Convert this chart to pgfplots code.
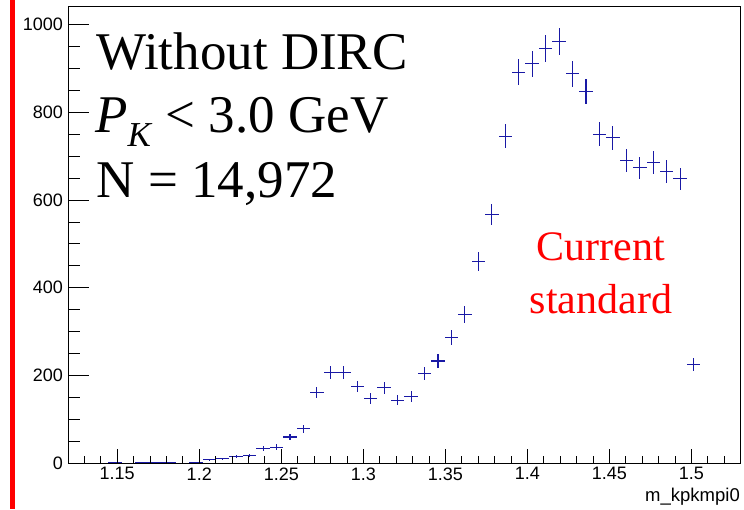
\documentclass[border=0pt]{standalone}
\usepackage{pgfplots}
\pgfplotsset{compat=1.18}
\usepackage{pgfplotstable}
\usepackage{fontspec}
\setmainfont{Liberation Serif}
\newfontfamily\arialf{Liberation Sans}
\definecolor{errblue}{RGB}{25,25,165}
\definecolor{rootred}{RGB}{255,0,0}

\pgfplotstableread{
x y ex ey
1.1487 1 0.0041 1
1.1651 1 0.0041 1
1.1733 2 0.0041 1.41
1.1815 1 0.0041 1
1.1979 2 0.0041 1.41
1.2061 8 0.0041 2.83
1.2143 10 0.0041 3.16
1.2225 15 0.0041 3.87
1.2307 18 0.0041 4.24
1.2389 34 0.0041 5.83
1.2471 37 0.0041 6.08
1.2553 60 0.0041 7.75
1.2635 79 0.0041 8.89
1.2717 161 0.0041 12.69
1.2799 207 0.0041 14.39
1.2881 207 0.0041 14.39
1.2963 175 0.0041 13.23
1.3045 147 0.0041 12.12
1.3127 172 0.0041 13.11
1.3209 144 0.0041 12.00
1.3291 153 0.0041 12.37
1.3373 205 0.0041 14.32
1.3455 233 0.0041 15.26
1.3537 287 0.0041 16.94
1.3619 339 0.0041 18.41
1.3701 460 0.0041 21.45
1.3783 567 0.0041 23.81
1.3865 745 0.0041 27.29
1.3947 891 0.0041 29.85
1.4029 910 0.0041 30.17
1.4111 945 0.0041 30.74
1.4193 961 0.0041 31.00
1.4275 888 0.0041 29.80
1.4357 847 0.0041 29.10
1.4439 750 0.0041 27.39
1.4521 742 0.0041 27.24
1.4603 690 0.0041 26.27
1.4685 673 0.0041 25.94
1.4767 685 0.0041 26.17
1.4849 665 0.0041 25.79
1.4931 648 0.0041 25.46
1.5013 226 0.0041 15.03
}\histdata

\pgfplotsset{
  rootaxis/.style={
    at={(68pt,45.7pt)}, anchor=south west,
    scale only axis, width=672.7pt, height=457.3pt,
    xmin=1.12, xmax=1.53, ymin=0, ymax=1042,
    axis line style={line width=0.8pt, black},
    tick style={line width=0.8pt, black},
    tick align=inside,
    ticklabel style={font=\arialf\fontsize{18}{20}\selectfont},
    xtick pos=bottom, ytick pos=left,
  }
}

\begin{document}
\begin{tikzpicture}
\path[use as bounding box] (0pt,0pt) rectangle (744pt,509pt);
\fill[rootred] (10pt,0pt) rectangle (15pt,509pt);

% axis with y ticks and data
\begin{axis}[
  rootaxis,
  xtick=\empty,
  ytick={0,200,400,600,800,1000},
  yticklabels={0,200,400,600,800,1000},
  minor ytick={50,100,150,250,300,350,450,500,550,650,700,750,850,900,950},
  major tick length=21pt, minor tick length=12pt,
  yticklabel style={inner sep=5pt},
]
\addplot[errblue, only marks, mark=*, mark size=0pt,
  mark options={draw=none, fill=none},
  error bars/.cd, x dir=both, x explicit, y dir=both, y explicit,
  error mark=none, error bar style={line width=1.1pt, errblue}]
  table[x=x, y=y, x error=ex, y error=ey] {\histdata};
\end{axis}

% axis with x ticks
\begin{axis}[
  rootaxis,
  ytick=\empty,
  xtick={1.15,1.2,1.25,1.3,1.35,1.4,1.45,1.5},
  xticklabels={1.15,1.2,1.25,1.3,1.35,1.4,1.45,1.5},
  minor xtick={1.13,1.14,1.16,1.17,1.18,1.19,1.21,1.22,1.23,1.24,1.26,1.27,1.28,1.29,1.31,1.32,1.33,1.34,1.36,1.37,1.38,1.39,1.41,1.42,1.43,1.44,1.46,1.47,1.48,1.49,1.51,1.52},
  major tick length=14pt, minor tick length=7.7pt,
  xticklabel style={inner sep=4pt},
]
\end{axis}

\node[anchor=base east, inner sep=0pt, font=\arialf\fontsize{18.5}{20}\selectfont] at (740pt,7.3pt) {m\_kpkmpi0};

\node[anchor=base west, inner sep=0pt, font=\fontsize{53}{60}\selectfont] at (96pt,439pt) {Without DIRC};
\node[anchor=base west, inner sep=0pt, font=\fontsize{53}{60}\selectfont] at (95pt,376pt) {\textit{P}\raisebox{-0.26em}{\fontsize{35}{40}\selectfont\textit{K}} < 3.0 GeV};
\node[anchor=base west, inner sep=0pt, font=\fontsize{53}{60}\selectfont] at (96.5pt,311pt) {N = 14,972};

\node[anchor=base, inner sep=0pt, text=rootred, font=\fontsize{42}{48}\selectfont] at (601pt,248pt) {Current};
\node[anchor=base, inner sep=0pt, text=rootred, font=\fontsize{42}{48}\selectfont] at (601pt,195.7pt) {standard};
\end{tikzpicture}
\end{document}
